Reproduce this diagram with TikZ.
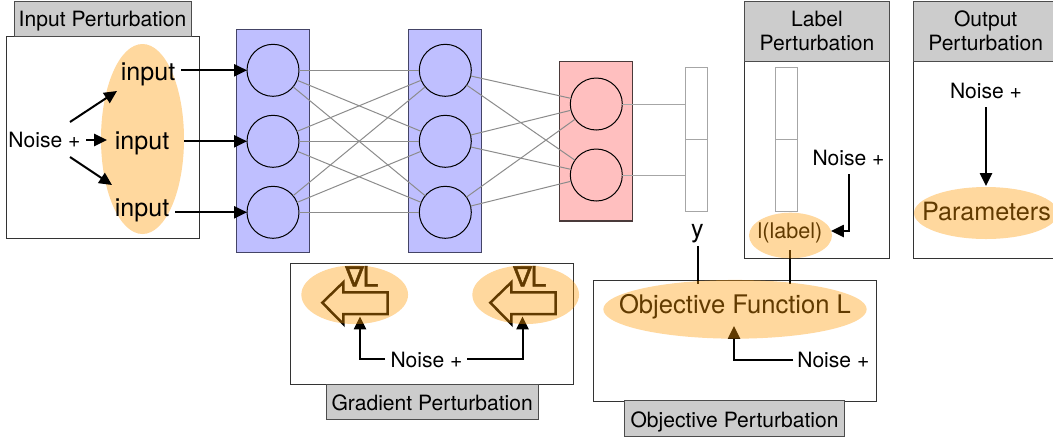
\documentclass[tikz,border=0pt]{standalone}
\usepackage{fontspec}
\setmainfont{TeX Gyre Heros}
\newfontfamily\nablafont[FakeBold=1.5]{DejaVu Sans}
\newfontfamily\ellfont[FakeBold=1.5]{TeX Gyre Heros}
\usetikzlibrary{arrows.meta,shapes.geometric}
\newcommand{\pxl}{0.75pt}
\newcommand{\fsA}{\fontsize{15.8pt}{18pt}\selectfont}
\newcommand{\fsB}{\fontsize{18.8pt}{22pt}\selectfont}
\newcommand{\fsC}{\fontsize{16.2pt}{18pt}\selectfont}
\definecolor{orange}{HTML}{FF9900}
\definecolor{bluefill}{HTML}{BFBFFF}
\definecolor{pinkfill}{HTML}{FFBFBF}
\definecolor{blueedge}{HTML}{444466}
\definecolor{pinkedge}{HTML}{4A3A3A}
\tikzset{
  every node/.style={outer sep=0pt,inner sep=0pt},
  box/.style={draw=black!80,line width=\pxl,fill=white,rectangle},
  hdr/.style={draw=black!70,line width=\pxl,fill=black!20,rectangle},
  blue layer/.style={draw=blueedge,line width=1.2*\pxl,fill=bluefill,rectangle,minimum width=73*\pxl,minimum height=223*\pxl},
  pink layer/.style={draw=pinkedge,line width=1.2*\pxl,fill=pinkfill,rectangle,minimum width=73*\pxl,minimum height=159.5*\pxl},
  neuron/.style={draw=black,line width=\pxl,circle,minimum size=52*\pxl},
  cell/.style={draw=black!35,line width=\pxl,fill=white,rectangle,minimum width=22*\pxl},
  wire/.style={draw=black!45,line width=\pxl},
  wire2/.style={draw=black!35,line width=\pxl},
  glow/.style={ellipse,fill=orange,fill opacity=.38,text opacity=1,draw=none},
  txt/.style={anchor=base,font=\fsA},
  big/.style={anchor=base,font=\fsB},
  arr/.style={line width=2*\pxl,black,-{Triangle[length=9.6pt,width=9pt]}},
  bar/.style={line width=2*\pxl,black},
  blockarr/.style={line width=2.5*\pxl,black,line join=miter},
  nab/.style={anchor=base,font=\fontsize{21pt}{22pt}\selectfont}
}
\begin{document}
\begin{tikzpicture}[x=0.75pt,y=-0.75pt]
\clip (0,0) rectangle (1053,437);
\fill[white] (0,0) rectangle (1053,437);
% input panel
\node[box,minimum width=193*\pxl,minimum height=202*\pxl] (inbox) at (102.5,137) {};
\node[hdr,minimum width=177*\pxl,minimum height=35*\pxl] (inhdr) at (102.5,18.5) {};
\node[txt] (inhdrt) at (102.5,26.5) {Input Perturbation};
\node[glow,minimum width=83*\pxl,minimum height=190*\pxl] (inell) at (142.5,139) {};
\node[big] (in1) at (148,80) {input};
\node[big] (in2) at (142,149.5) {input};
\node[big] (in3) at (142,216) {input};
\node[txt] (innoise) at (44.5,147.5) {Noise +};
% layers
\node[blue layer] (L1) at (273,141.3) {};
\node[blue layer] (L2) at (445.3,141.3) {};
\node[pink layer] (L3) at (596.2,141.3) {};
\foreach \i/\y in {1/70.3,2/141.3,3/212.3}{
  \node[neuron] (a\i) at (273,\y) {};
  \node[neuron] (b\i) at (445.3,\y) {};
}
\node[neuron] (c1) at (596.3,104) {};
\node[neuron] (c2) at (596.3,175) {};
\foreach \i in {1,2,3}{
  \foreach \j in {1,2,3}{\draw[wire] (a\i) -- (b\j);}
  \foreach \j in {1,2}{\draw[wire] (b\i) -- (c\j);}
}
% output cells
\node[cell,minimum height=71.5*\pxl] (y1) at (696,103.5) {};
\node[cell,minimum height=72.7*\pxl] (y2) at (696,175.6) {};
\draw[wire2] (c1) -- (y1.west |- c1);
\draw[wire2] (c2) -- (y2.west |- c2);
\node[big] (ylab) at (697.5,237) {y};
% input arrows
\coordinate (s1) at (181,70.3);
\coordinate (s2) at (184,141.3);
\coordinate (s3) at (175,212.3);
\draw[arr] (s1) -- (a1.west);
\draw[arr] (s2) -- (a2.west);
\draw[arr] (s3) -- (a3.west);
\coordinate (n1a) at (70,122); \coordinate (n1b) at (117,91);
\coordinate (n2a) at (86,140); \coordinate (n2b) at (107,140);
\coordinate (n3a) at (70,157); \coordinate (n3b) at (112,185);
\draw[arr] (n1a) -- (n1b);
\draw[arr] (n2a) -- (n2b);
\draw[arr] (n3a) -- (n3b);
% label panel
\node[box,minimum width=144.7*\pxl,minimum height=197.5*\pxl] (lbbox) at (817.3,159.8) {};
\node[hdr,minimum width=144.7*\pxl,minimum height=60*\pxl] (lbhdr) at (817.3,31) {};
\node[txt] (lbt1) at (817,26) {Label};
\node[txt] (lbt2) at (817,50) {Perturbation};
\node[cell,minimum height=71.5*\pxl] (z1) at (786,103.5) {};
\node[cell,minimum height=72.7*\pxl] (z2) at (786,175.6) {};
\node[txt] (lbnoise) at (848.5,165.5) {Noise +};
\node[txt,font=\fsC] (lbl) at (790,238.8) {l(label)};
% output panel
\node[box,minimum width=145*\pxl,minimum height=197.5*\pxl] (oubox) at (985.8,159.8) {};
\node[hdr,minimum width=145*\pxl,minimum height=60*\pxl] (ouhdr) at (985.8,31) {};
\node[txt] (out1) at (985.7,26) {Output};
\node[txt] (out2) at (985.7,50) {Perturbation};
\node[txt] (ounoise) at (986,98) {Noise +};
\node[txt,font=\fontsize{18.9pt}{20pt}\selectfont] (par) at (986.5,220.5) {Parameters};
\coordinate (p1) at (986,107); \coordinate (p2) at (986,186);
\draw[arr] (p1) -- (p2);
% gradient panel
\node[box,minimum width=283.3*\pxl,minimum height=121*\pxl] (grbox) at (432.3,324.2) {};
\node[hdr,minimum width=212.3*\pxl,minimum height=35*\pxl] (grhdr) at (432.2,402.2) {};
\node[txt] (grt) at (432.2,410) {Gradient Perturbation};
\node[txt] (grnoise) at (426.5,367) {Noise +};
\foreach \dx/\nm in {0/gl,168/gr}{
  \begin{scope}[xshift=\dx*0.75pt]
  \draw[blockarr] (322.3,302.7) -- (343.3,282.3) -- (343.3,292.3) -- (387.7,292.3) -- (387.7,314) -- (343.3,314) -- (343.3,324) -- cycle;
  \node[nab] (\nm t) at (361.7,286.5) {{\nablafont ∇}\kern-1pt{\ellfont L}};
  \end{scope}
}
\coordinate (g0l) at (385,359); \coordinate (g1l) at (360,359); \coordinate (g2l) at (360,316.5);
\coordinate (g0r) at (467,359); \coordinate (g1r) at (522.5,359); \coordinate (g2r) at (522.5,316.5);
\draw[arr] (g0l) -- (g1l) -- (g2l);
\draw[arr] (g0r) -- (g1r) -- (g2r);
\node[glow,minimum width=106.7*\pxl,minimum height=58.7*\pxl] (ge1) at (354.7,294.7) {};
\node[glow,minimum width=106.7*\pxl,minimum height=58.7*\pxl] (ge2) at (525.7,294.7) {};
% objective panel
\node[box,minimum width=283*\pxl,minimum height=121*\pxl] (obbox) at (734.8,340.5) {};
\node[hdr,minimum width=219.6*\pxl,minimum height=35.3*\pxl] (obhdr) at (734.5,418.6) {};
\node[txt] (obt) at (734.5,427) {Objective Perturbation};
\node[txt] (obnoise) at (833.3,367) {Noise +};
\node[txt,font=\fontsize{19.2pt}{22pt}\selectfont] (obf) at (735,313.3) {Objective Function L};
\coordinate (o0) at (793,359.5); \coordinate (o1) at (734,359.5); \coordinate (o2) at (734,326);
\draw[arr] (o0) -- (o1) -- (o2);
\coordinate (ln0) at (848.5,174); \coordinate (ln1) at (848.5,231); \coordinate (ln2) at (831,231);
\draw[arr] (ln0) -- (ln1) -- (ln2);
% links into the objective
\coordinate (ya) at (697.5,246); \coordinate (yb) at (697.5,284);
\coordinate (la) at (790,250); \coordinate (lb) at (790,284);
\draw[bar] (ya) -- (yb);
\draw[bar] (la) -- (lb);
\node[glow,minimum width=263.4*\pxl,minimum height=58.7*\pxl] (obe) at (735,309.3) {};
\node[glow,minimum width=83*\pxl,minimum height=45.6*\pxl] (lbe) at (790.5,235.5) {};
\node[glow,minimum width=144*\pxl,minimum height=52*\pxl] (pare) at (986,213) {};
\end{tikzpicture}
\end{document}
